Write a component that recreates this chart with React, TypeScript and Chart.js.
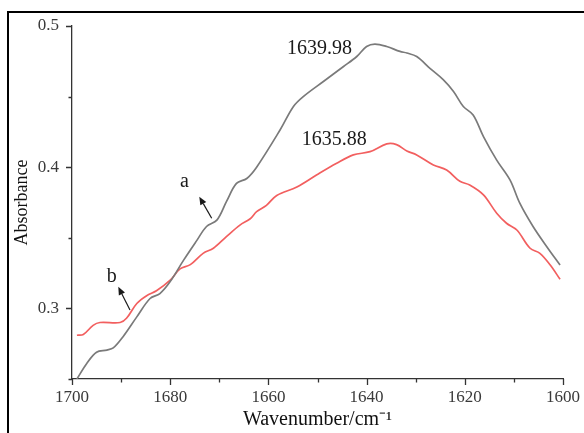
import { useEffect, useRef } from "react";
import { Chart, registerables } from "chart.js";

Chart.register(...registerables);

// Spectrum a (grey)
const wavenumbersA = [
  1699.0, 1697.0, 1695.0, 1692.9, 1691.6, 1689.6, 1686.8, 1684.1, 1682.1, 1680.0,
  1677.3, 1674.6, 1672.6, 1670.5, 1668.5, 1666.5, 1664.4, 1662.4, 1657.6, 1654.9,
  1652.9, 1648.8, 1644.7, 1642.0, 1640.0, 1638.3, 1635.9, 1633.2, 1631.8, 1629.8,
  1627.1, 1624.4, 1622.3, 1620.3, 1618.3, 1616.2, 1613.5, 1610.8, 1608.8, 1606.1,
  1603.3, 1600.6,
];
const absorbanceA = [
  0.250, 0.261, 0.269, 0.2705, 0.272, 0.280, 0.294, 0.307, 0.3105, 0.319,
  0.334, 0.348, 0.358, 0.3625, 0.376, 0.3885, 0.392, 0.400, 0.4265, 0.443,
  0.450, 0.4607, 0.4713, 0.4784, 0.4855, 0.4872, 0.4855, 0.482, 0.4809, 0.4784,
  0.470, 0.462, 0.4536, 0.443, 0.437, 0.4217, 0.405, 0.391, 0.3745, 0.358,
  0.3437, 0.3307,
];

// Spectrum b (red)
const wavenumbersB = [
  1699.0, 1697.7, 1695.7, 1694.3, 1690.2, 1688.9, 1686.8, 1684.8, 1682.8, 1680.0,
  1678.0, 1675.9, 1673.3, 1671.2, 1668.5, 1665.8, 1663.7, 1662.4, 1660.4, 1658.3,
  1654.2, 1650.2, 1646.1, 1642.7, 1639.3, 1635.9, 1633.9, 1631.8, 1629.8, 1626.4,
  1623.7, 1621.0, 1619.0, 1616.2, 1613.5, 1611.5, 1609.4, 1606.7, 1604.7, 1602.6,
  1600.6,
];
const absorbanceB = [
  0.281, 0.2815, 0.288, 0.290, 0.290, 0.293, 0.3035, 0.309, 0.3125, 0.320,
  0.328, 0.331, 0.339, 0.3426, 0.351, 0.359, 0.3635, 0.3685, 0.373, 0.380,
  0.386, 0.3945, 0.4028, 0.4087, 0.411, 0.4165, 0.416, 0.4115, 0.4087, 0.4016,
  0.398, 0.390, 0.3874, 0.3804, 0.3674, 0.3603, 0.3555, 0.3426, 0.339, 0.3307,
  0.3206,
];

// Axis ranges and tick spacing
const xRange = [1600, 1700];
const yRange = [0.25, 0.5];
const xStep = 10;
const xLabelStep = 20;
const yStep = 0.05;

// Peak labels and curve markers
const peakTexts = ["1639.98", "1635.88"];
const curveNames = ["a", "b"];

const serif = "'Liberation Serif', 'Times New Roman', serif";

const decorPlugin = {
  id: "decor",
  afterDraw(chart: any) {
    const { ctx, chartArea } = chart;
    const x = chart.scales.x;
    const y = chart.scales.y;
    const px = (v: number) => x.getPixelForValue(v);
    const py = (v: number) => y.getPixelForValue(v);
    ctx.save();

    // outward tick marks
    ctx.strokeStyle = "#333";
    ctx.lineWidth = 1.3;
    ctx.beginPath();
    for (let v = xRange[0]; v <= xRange[1]; v += xStep) {
      const len = v % xLabelStep === 0 ? 6 : 3.5;
      const p = Math.round(px(v)) + 0.5;
      ctx.moveTo(p, chartArea.bottom);
      ctx.lineTo(p, chartArea.bottom + len);
    }
    for (let i = 0; i <= Math.round((yRange[1] - yRange[0]) / yStep); i++) {
      const v = yRange[0] + i * yStep;
      const major = Math.abs(v * 10 - Math.round(v * 10)) < 1e-6;
      const len = major ? 6 : 3.5;
      const p = Math.round(py(v)) + 0.5;
      ctx.moveTo(chartArea.left, p);
      ctx.lineTo(chartArea.left - len, p);
    }
    ctx.stroke();

    // peak labels
    ctx.fillStyle = "#1a1a1a";
    ctx.font = `20px ${serif}`;
    ctx.textAlign = "left";
    ctx.textBaseline = "alphabetic";
    ctx.fillText(peakTexts[0], px(1656.2), py(0.4804));
    ctx.fillText(peakTexts[1], px(1653.2), py(0.4158));

    // curve names
    ctx.fillText(curveNames[0], px(1678.0), py(0.3858));
    ctx.fillText(curveNames[1], px(1692.9), py(0.3189));

    // arrows pointing at the names
    const arrow = (x0: number, y0: number, x1: number, y1: number) => {
      const ax = px(x0), ay = py(y0), bx = px(x1), by = py(y1);
      const ang = Math.atan2(by - ay, bx - ax);
      const head = 8;
      const half = 3.4;
      const baseX = bx - head * Math.cos(ang);
      const baseY = by - head * Math.sin(ang);
      ctx.strokeStyle = "#1a1a1a";
      ctx.lineWidth = 1.2;
      ctx.beginPath();
      ctx.moveTo(ax, ay);
      ctx.lineTo(baseX, baseY);
      ctx.stroke();
      ctx.beginPath();
      ctx.moveTo(bx, by);
      ctx.lineTo(baseX + half * Math.sin(ang), baseY - half * Math.cos(ang));
      ctx.lineTo(baseX - half * Math.sin(ang), baseY + half * Math.cos(ang));
      ctx.closePath();
      ctx.fill();
    };
    arrow(1671.55, 0.3638, 1674.07, 0.3791);
    arrow(1688.19, 0.2988, 1690.57, 0.3153);

    // figure frame
    ctx.fillStyle = "#000";
    ctx.fillRect(7, 11, chart.width - 7, 2);
    ctx.fillRect(7, 11, 2, chart.height - 11);
    ctx.restore();
  },
};

export default function App() {
  const canvasRef = useRef<HTMLCanvasElement | null>(null);

  useEffect(() => {
    document.body.style.margin = "0";
    const canvas = canvasRef.current;
    if (!canvas) return;

    const chart = new Chart(canvas, {
      type: "line",
      data: {
        datasets: [
          {
            label: "a",
            data: wavenumbersA.map((w, i) => ({ x: w, y: absorbanceA[i] })),
            borderColor: "#7a7a7a",
            borderWidth: 1.7,
            pointRadius: 0,
            tension: 0.35,
            fill: false,
          },
          {
            label: "b",
            data: wavenumbersB.map((w, i) => ({ x: w, y: absorbanceB[i] })),
            borderColor: "#f25f5f",
            borderWidth: 1.7,
            pointRadius: 0,
            tension: 0.35,
            fill: false,
          },
        ],
      },
      options: {
        responsive: false,
        animation: false,
        layout: { padding: { top: 26, right: 21, bottom: 0, left: 0 } },
        plugins: {
          legend: { display: false },
          tooltip: { enabled: false },
        },
        scales: {
          x: {
            type: "linear",
            reverse: true,
            min: xRange[0],
            max: xRange[1],
            afterFit: (s: any) => {
              s.height = 54;
            },
            grid: { display: true, drawOnChartArea: false, drawTicks: true, tickLength: 6, color: "rgba(0,0,0,0)" },
            border: { display: true, color: "#333", width: 1.3 },
            ticks: {
              stepSize: xStep,
              autoSkip: false,
              maxRotation: 0,
              padding: 2,
              color: "#3a3a3a",
              font: { family: serif, size: 17 },
              callback: (v: any) => (Number(v) % xLabelStep === 0 ? String(v) : ""),
            },
            title: {
              display: true,
              text: "Wavenumber/cm⁻¹",
              color: "#111",
              font: { family: serif, size: 20 },
              padding: { top: 0, bottom: 1 },
            },
          },
          y: {
            min: yRange[0],
            max: yRange[1],
            afterFit: (s: any) => {
              s.width = 72;
            },
            grid: { display: true, drawOnChartArea: false, drawTicks: true, tickLength: 6, color: "rgba(0,0,0,0)" },
            border: { display: true, color: "#333", width: 1.3 },
            ticks: {
              stepSize: yStep,
              autoSkip: false,
              padding: 7,
              color: "#3a3a3a",
              font: { family: serif, size: 17 },
              callback: (v: any) => {
                const n = Number(v);
                return Math.abs(n * 10 - Math.round(n * 10)) < 1e-6 ? n.toFixed(1) : "";
              },
            },
            title: {
              display: true,
              text: "Absorbance",
              color: "#111",
              font: { family: serif, size: 18 },
              padding: { top: 11, bottom: 0 },
            },
          },
        },
      },
      plugins: [decorPlugin],
    });

    return () => chart.destroy();
  }, []);

  return (
    <div style={{ width: 584, height: 433, background: "#fff" }}>
      <canvas ref={canvasRef} width={584} height={433} style={{ display: "block" }} />
    </div>
  );
}
